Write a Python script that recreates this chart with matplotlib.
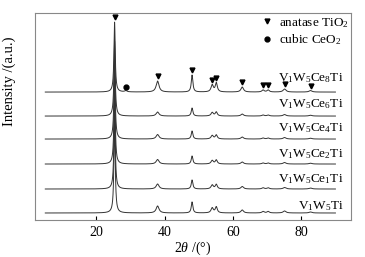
import numpy as np
import matplotlib.pyplot as plt

plt.rcParams['font.family'] = ['Liberation Serif', 'DejaVu Serif']
plt.rcParams['mathtext.fontset'] = 'custom'
plt.rcParams['mathtext.rm'] = 'Liberation Serif'
plt.rcParams['mathtext.it'] = 'Liberation Serif:italic'

# samples, bottom to top
samples = ['V$_1$W$_5$Ti', 'V$_1$W$_5$Ce$_1$Ti', 'V$_1$W$_5$Ce$_2$Ti',
           'V$_1$W$_5$Ce$_4$Ti', 'V$_1$W$_5$Ce$_6$Ti', 'V$_1$W$_5$Ce$_8$Ti']
offsets = [7, 31, 56, 81, 104, 128]
label_gap = [4, 7, 7, 8, 9, 11]

# anatase TiO2 reflections (2theta) and widths
anatase_pos = [25.3, 37.9, 48.0, 53.9, 55.1, 62.7, 68.8, 70.3, 75.1, 82.7]
anatase_fwhm = [0.45, 1.0, 0.55, 0.8, 0.7, 0.9, 0.8, 0.8, 1.0, 1.0]
# peak heights read per sample (bottom to top)
heights = [
    [95, 7, 11, 5, 6, 3, 1.5, 1.5, 2, 1],
    [90, 5, 9, 4, 4.5, 2.5, 1.2, 1.2, 1.5, 1],
    [85, 4.5, 8, 3.5, 4, 2, 1, 1, 1.5, 0.8],
    [80, 4.5, 8, 3.5, 4, 2, 1, 1, 1.5, 0.8],
    [75, 4, 8, 3.5, 4, 2, 1, 1, 1.5, 0.8],
    [70, 11, 17, 7, 9, 5, 2, 2, 3, 1.5],
]
ceo2_pos = 28.6
ceo2_height = 1.2

two_theta = np.linspace(5, 90, 3000)


def lorentz(x, x0, w, h):
    return h / (1 + ((x - x0) / (w / 2)) ** 2)


fig = plt.figure(figsize=(3.65, 2.57), dpi=100)
ax = fig.add_axes([0.096, 0.144, 0.866, 0.805])

for i, (name, off) in enumerate(zip(samples, offsets)):
    y = np.zeros_like(two_theta)
    for p, w, h in zip(anatase_pos, anatase_fwhm, heights[i]):
        y += lorentz(two_theta, p, w, h)
    if i == len(samples) - 1:
        y += lorentz(two_theta, ceo2_pos, 0.8, ceo2_height)
    ax.plot(two_theta, y + off, color='#333333', lw=0.7)
    ax.text(92.3, off + label_gap[i], name, ha='right', va='baseline',
            fontsize=9.5)

# phase markers on the top pattern
top = len(samples) - 1
ax.plot(anatase_pos, [offsets[top] + h + 5 for h in heights[top]],
        'v', color='black', ms=3.5, ls='none', label='anatase TiO$_2$')
ax.plot([ceo2_pos], [offsets[top] + 5], 'o', color='black', ms=3.5, ls='none',
        label='cubic CeO$_2$')

ax.legend(loc='upper right', frameon=False, fontsize=9.5, handletextpad=0.4,
          borderaxespad=0.0, borderpad=0.2, labelspacing=0.2, handlelength=1.0)

ax.set_xlim(2, 94.6)
ax.set_ylim(0, 207)
ax.set_xticks([20, 40, 60, 80])
ax.set_yticks([])
ax.tick_params(axis='x', direction='in', length=3, labelsize=10, pad=4)
ax.set_xlabel(r'2$\it{\theta}$ /(°)', fontsize=10, labelpad=1)
ax.set_ylabel('Intensity /(a.u.)', fontsize=10.5)
ax.yaxis.set_label_coords(-0.06, 0.67)
for s in ax.spines.values():
    s.set_color('#888888')
    s.set_linewidth(0.8)

fig.savefig('out.png', dpi=100)
